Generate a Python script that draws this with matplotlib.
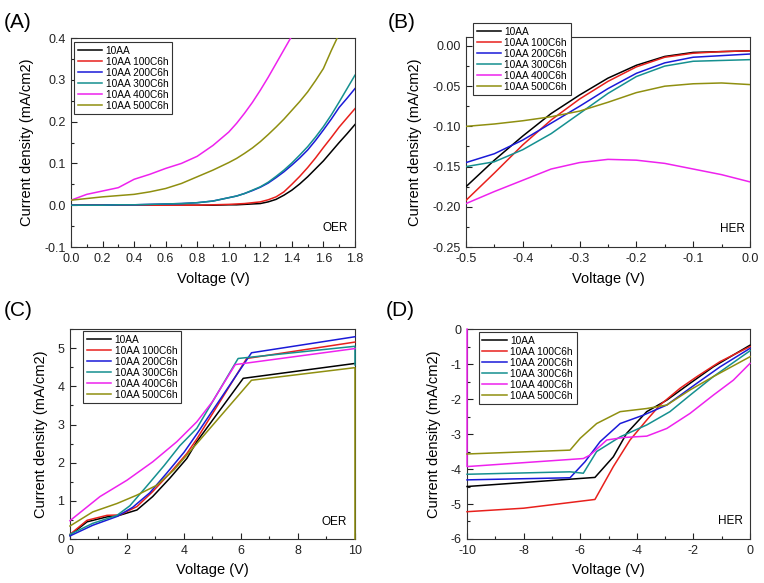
import numpy as np
import matplotlib
matplotlib.use("Agg")
import matplotlib.pyplot as plt
from matplotlib.ticker import MultipleLocator, FormatStrFormatter

plt.rcParams['font.family'] = ['Liberation Sans', 'DejaVu Sans']
plt.rcParams['axes.unicode_minus'] = False

labels = ["10AA", "10AA 100C6h", "10AA 200C6h", "10AA 300C6h", "10AA 400C6h", "10AA 500C6h"]
colors = ["#000000", "#e8201c", "#1a1ad8", "#159090", "#ee22ee", "#8f8f10"]

# (A) OER, low voltage
v_a = [0.0, 0.1, 0.2, 0.3, 0.4, 0.5, 0.6, 0.7, 0.8, 0.9, 1.0, 1.05, 1.1, 1.15, 1.2, 1.25, 1.3, 1.35,
       1.4, 1.45, 1.5, 1.55, 1.6, 1.65, 1.7, 1.75, 1.8]
a_10aa = [0, 0, 0, 0, 0, 0, 0, 0, 0, 0, 0.001, 0.001, 0.002, 0.003, 0.004, 0.008, 0.014, 0.024,
          0.036, 0.051, 0.068, 0.087, 0.106, 0.128, 0.150, 0.171, 0.193]
a_100 = [0, 0, 0, 0, 0, 0, 0, 0, 0, 0.001, 0.002, 0.003, 0.004, 0.006, 0.008, 0.013, 0.020, 0.032,
         0.050, 0.069, 0.090, 0.113, 0.138, 0.162, 0.187, 0.209, 0.231]
a_200 = [0, 0, 0, 0.001, 0.001, 0.002, 0.003, 0.004, 0.006, 0.010, 0.018, 0.022, 0.028, 0.035, 0.043, 0.053,
         0.066, 0.080, 0.096, 0.113, 0.132, 0.155, 0.180, 0.206, 0.234, 0.256, 0.279]
a_300 = [0, 0, 0, 0.001, 0.001, 0.002, 0.003, 0.004, 0.006, 0.010, 0.018, 0.022, 0.028, 0.036, 0.044, 0.055,
         0.069, 0.084, 0.101, 0.120, 0.140, 0.163, 0.188, 0.216, 0.247, 0.279, 0.311]
a_400 = [0.012, 0.026, 0.034, 0.042, 0.062, 0.074, 0.088, 0.100, 0.117, 0.143, 0.175, 0.196, 0.220, 0.246,
         0.275, 0.306, 0.339, 0.372, 0.405, np.nan, np.nan, np.nan, np.nan, np.nan, np.nan, np.nan, np.nan]
a_500 = [0.012, 0.016, 0.020, 0.023, 0.026, 0.032, 0.040, 0.052, 0.068, 0.084, 0.102, 0.112, 0.124, 0.137,
         0.152, 0.169, 0.187, 0.206, 0.227, 0.248, 0.271, 0.298, 0.327, 0.370, 0.410, np.nan, np.nan]

# (B) HER, low voltage
v_b = [-0.5, -0.45, -0.4, -0.35, -0.3, -0.25, -0.2, -0.15, -0.1, -0.05, 0.0]
b_10aa = [-0.175, -0.142, -0.112, -0.084, -0.061, -0.040, -0.024, -0.013, -0.008, -0.007, -0.006]
b_100 = [-0.192, -0.158, -0.123, -0.092, -0.066, -0.044, -0.026, -0.014, -0.009, -0.007, -0.006]
b_200 = [-0.145, -0.134, -0.117, -0.096, -0.075, -0.053, -0.034, -0.021, -0.014, -0.012, -0.010]
b_300 = [-0.150, -0.144, -0.129, -0.109, -0.084, -0.059, -0.038, -0.025, -0.019, -0.018, -0.017]
b_400 = [-0.196, -0.181, -0.167, -0.153, -0.145, -0.141, -0.142, -0.146, -0.153, -0.160, -0.169]
b_500 = [-0.100, -0.097, -0.093, -0.088, -0.081, -0.070, -0.058, -0.050, -0.047, -0.046, -0.048]

# (C) OER, 0-10 V
c_v = [
    [0, 0.6, 1.3, 1.65, 2.35, 2.9, 3.5, 4.1, 4.45, 6.08, 10],
    [0, 0.6, 1.3, 1.75, 2.35, 2.9, 3.5, 4.1, 4.45, 6.2, 10],
    [0, 0.8, 1.65, 2.2, 2.8, 3.4, 4.0, 4.45, 6.37, 10],
    [0, 0.8, 1.65, 2.1, 2.7, 3.3, 3.85, 4.45, 5.9, 10, 10],
    [0, 1.05, 2.0, 2.9, 3.75, 4.45, 5.0, 5.8, 10],
    [0, 0.8, 1.65, 2.35, 3.05, 3.65, 4.1, 4.45, 6.37, 10, 10],
]
c_j = [
    [0.10, 0.45, 0.58, 0.60, 0.76, 1.11, 1.59, 2.11, 2.55, 4.21, 4.60],
    [0.12, 0.49, 0.62, 0.63, 0.85, 1.24, 1.72, 2.24, 2.62, 4.73, 5.16],
    [0.08, 0.36, 0.59, 0.83, 1.21, 1.73, 2.27, 2.75, 4.88, 5.30],
    [0.12, 0.41, 0.62, 0.87, 1.39, 1.92, 2.44, 2.90, 4.73, 5.05, 4.56],
    [0.48, 1.11, 1.54, 2.02, 2.55, 3.07, 3.60, 4.57, 4.99],
    [0.34, 0.71, 0.93, 1.15, 1.41, 1.81, 2.20, 2.50, 4.16, 4.49, 0.0],
]

# (D) HER, -10-0 V
d_v = [
    [-10, -5.48, -4.83, -4.36, -3.65, -2.94, -2.12, -1.30, -0.59, 0],
    [-10, -8, -5.48, -4.83, -4.24, -3.65, -3.18, -2.47, -1.88, -1.06, 0],
    [-10, -6.36, -5.83, -5.3, -4.59, -3.77, -2.94, -1.88, -1.06, 0],
    [-10, -6.36, -5.89, -5.42, -4.59, -3.65, -2.83, -2.12, -1.30, 0],
    [-10, -10, -5.89, -5.65, -5.06, -4.48, -3.65, -2.94, -2.12, -1.30, -0.59, 0],
    [-10, -6.36, -6.0, -5.42, -4.59, -3.65, -2.94, -2.12, -1.30, 0],
]
d_j = [
    [-4.50, -4.24, -3.65, -2.98, -2.36, -2.03, -1.55, -1.08, -0.74, -0.46],
    [-5.22, -5.12, -4.87, -3.93, -3.17, -2.60, -2.17, -1.69, -1.36, -0.93, -0.50],
    [-4.31, -4.25, -3.79, -3.22, -2.70, -2.46, -2.17, -1.55, -1.08, -0.55],
    [-4.15, -4.08, -4.12, -3.50, -3.08, -2.74, -2.36, -1.89, -1.36, -0.62],
    [0.0, -3.93, -3.70, -3.60, -3.17, -3.10, -3.06, -2.84, -2.41, -1.89, -1.46, -0.98],
    [-3.57, -3.46, -3.12, -2.70, -2.36, -2.27, -2.17, -1.74, -1.36, -0.79],
]

fig = plt.figure(figsize=(7.64, 5.83), dpi=100)
ax_a = fig.add_axes([0.0929, 0.5763, 0.3717, 0.3585])
ax_b = fig.add_axes([0.6099, 0.5763, 0.3717, 0.3600])
ax_c = fig.add_axes([0.0916, 0.0755, 0.3730, 0.3600])
ax_d = fig.add_axes([0.6113, 0.0755, 0.3704, 0.3600])

# curves drawn above the frame so the vertical jumps at the plot edges stay visible
for y, lab, col in zip([a_10aa, a_100, a_200, a_300, a_400, a_500], labels, colors):
    ax_a.plot(v_a, y, color=col, lw=1.1, label=lab, zorder=3)
for y, lab, col in zip([b_10aa, b_100, b_200, b_300, b_400, b_500], labels, colors):
    ax_b.plot(v_b, y, color=col, lw=1.1, label=lab, zorder=3)
for x, y, lab, col in zip(c_v, c_j, labels, colors):
    ax_c.plot(x, y, color=col, lw=1.1, label=lab, zorder=3, clip_on=False)
for x, y, lab, col in zip(d_v, d_j, labels, colors):
    ax_d.plot(x, y, color=col, lw=1.1, label=lab, zorder=3, clip_on=False)

ax_a.set_xlim(0, 1.8); ax_a.set_ylim(-0.1, 0.4)
ax_a.xaxis.set_major_locator(MultipleLocator(0.2)); ax_a.xaxis.set_minor_locator(MultipleLocator(0.1))
ax_a.yaxis.set_major_locator(MultipleLocator(0.1)); ax_a.yaxis.set_minor_locator(MultipleLocator(0.05))
ax_a.xaxis.set_major_formatter(FormatStrFormatter('%.1f')); ax_a.yaxis.set_major_formatter(FormatStrFormatter('%.1f'))

ax_b.set_xlim(-0.5, 0); ax_b.set_ylim(-0.25, 0.011)
ax_b.xaxis.set_major_locator(MultipleLocator(0.1)); ax_b.xaxis.set_minor_locator(MultipleLocator(0.05))
ax_b.yaxis.set_major_locator(MultipleLocator(0.05)); ax_b.yaxis.set_minor_locator(MultipleLocator(0.025))
ax_b.xaxis.set_major_formatter(FormatStrFormatter('%.1f')); ax_b.yaxis.set_major_formatter(FormatStrFormatter('%.2f'))

ax_c.set_xlim(0, 10); ax_c.set_ylim(0, 5.5)
ax_c.xaxis.set_major_locator(MultipleLocator(2)); ax_c.xaxis.set_minor_locator(MultipleLocator(1))
ax_c.yaxis.set_major_locator(MultipleLocator(1)); ax_c.yaxis.set_minor_locator(MultipleLocator(0.5))

ax_d.set_xlim(-10, 0); ax_d.set_ylim(-6, 0)
ax_d.xaxis.set_major_locator(MultipleLocator(2)); ax_d.xaxis.set_minor_locator(MultipleLocator(1))
ax_d.yaxis.set_major_locator(MultipleLocator(1)); ax_d.yaxis.set_minor_locator(MultipleLocator(0.5))

tags = ["(A)", "(B)", "(C)", "(D)"]
modes = ["OER", "HER", "OER", "HER"]
legpos = [(0.011, 0.981), (0.025, 1.067), (0.046, 0.990), (0.042, 0.986)]
modepos = [(0.975, 0.09), (0.982, 0.086), (0.972, 0.079), (0.975, 0.086)]
tagpos = [(0.005, 0.962), (0.508, 0.962), (0.005, 0.467), (0.505, 0.467)]

for ax, tag, mode, lp, mp, tp in zip([ax_a, ax_b, ax_c, ax_d], tags, modes, legpos, modepos, tagpos):
    ax.tick_params(which='both', direction='in', top=False, right=False, labelsize=9, pad=4, colors='#222222')
    ax.tick_params(which='major', length=4, width=0.8)
    ax.tick_params(which='minor', length=2, width=0.8)
    for s in ax.spines.values():
        s.set_linewidth(0.8)
        s.set_color('#333333')
    ax.set_xlabel("Voltage (V)", fontsize=10.5, labelpad=5)
    ax.set_ylabel("Current density (mA/cm2)", fontsize=10.5, labelpad=7)
    ax.text(mp[0], mp[1], mode, transform=ax.transAxes, ha='right', va='center', fontsize=8.5)
    leg = ax.legend(loc='upper left', bbox_to_anchor=lp, borderaxespad=0, fontsize=7.3,
                    frameon=True, fancybox=False, framealpha=1, edgecolor='#333333',
                    handlelength=2.4, handletextpad=0.35, labelspacing=0.1, borderpad=0.35)
    leg.get_frame().set_linewidth(0.8)
    leg.set_zorder(5)
    fig.text(tp[0], tp[1], tag, fontsize=15, ha='left', va='center')

fig.savefig("out.png", dpi=100)
